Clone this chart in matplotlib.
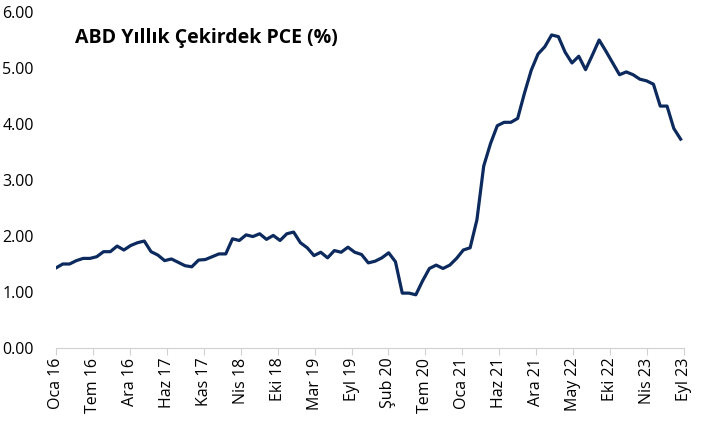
import numpy as np
import matplotlib
matplotlib.use("Agg")
import matplotlib.pyplot as plt
import matplotlib.transforms as mtransforms

plt.rcParams['font.family'] = ['Open Sans', 'DejaVu Sans']

# monthly core PCE yoy, Jan 2016 .. Sep 2023
pce = [
    1.43, 1.50, 1.50, 1.56, 1.60, 1.60, 1.63, 1.72, 1.72, 1.82, 1.75, 1.83,
    1.88, 1.91, 1.72, 1.66, 1.56, 1.59, 1.53, 1.47, 1.45, 1.57, 1.58, 1.63,
    1.68, 1.68, 1.95, 1.92, 2.02, 1.99, 2.04, 1.94, 2.01, 1.92, 2.04, 2.07,
    1.88, 1.79, 1.65, 1.71, 1.61, 1.74, 1.71, 1.80, 1.71, 1.67, 1.52, 1.55,
    1.61, 1.70, 1.54, 0.98, 0.98, 0.95, 1.20, 1.42, 1.48, 1.42, 1.48, 1.60,
    1.75, 1.79, 2.29, 3.25, 3.65, 3.97, 4.03, 4.03, 4.10, 4.55, 4.96, 5.25,
    5.38, 5.59, 5.56, 5.28, 5.09, 5.21, 4.97, 5.23, 5.50, 5.30, 5.09, 4.88,
    4.93, 4.88, 4.80, 4.77, 4.71, 4.32, 4.32, 3.92, 3.73,
]
tick_labels = [
    "Oca 16", "Tem 16", "Ara 16", "Haz 17", "Kas 17", "Nis 18", "Eki 18",
    "Mar 19", "Eyl 19", "Şub 20", "Tem 20", "Oca 21", "Haz 21", "Ara 21",
    "May 22", "Eki 22", "Nis 23", "Eyl 23",
]
y_ticks = [0, 1, 2, 3, 4, 5, 6]

fig = plt.figure(figsize=(7.05, 4.26), dpi=100)
ax = fig.add_axes([56 / 705, 1 - 348 / 426, 628 / 705, 336 / 426])

months = np.arange(len(pce))
ax.plot(months, pce, color="#0C2A5E", lw=2.3, solid_joinstyle="round")

xmax = len(pce) - 0.5
ax.set_xlim(0, xmax)
ax.set_ylim(0, 6)
ax.set_xticks(np.linspace(0, xmax, len(tick_labels)))
ax.set_xticklabels(tick_labels, rotation=90, fontsize=11.5)
offset = mtransforms.ScaledTranslation(4 / 100, 0, fig.dpi_scale_trans)
for lab in ax.get_xticklabels():
    lab.set_transform(lab.get_transform() + offset)

ax.set_yticks(y_ticks)
ax.set_yticklabels([f"{v:.2f}" for v in y_ticks], fontsize=11.5)

for side in ["top", "right", "left"]:
    ax.spines[side].set_visible(False)
ax.spines["bottom"].set_color("#D0D0D0")
ax.tick_params(axis="x", direction="out", length=5, color="#D0D0D0", pad=2)
ax.tick_params(axis="y", length=0, pad=16)

fig.text(75 / 705, 1 - 38 / 426, "ABD Yıllık Çekirdek PCE (%)",
         fontsize=14, fontweight="bold", va="center", ha="left")

fig.savefig("out.png", dpi=100)
